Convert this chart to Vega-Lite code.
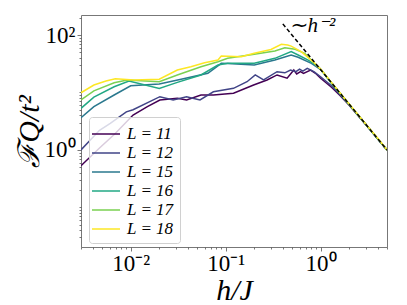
{
  "$schema": "https://vega.github.io/schema/vega-lite/v6.json",
  "width": 306,
  "height": 232,
  "autosize": {"type": "none"},
  "padding": {"left": 81, "top": 15, "right": 20, "bottom": 58},
  "background": "white",
  "config": {
    "view": {"stroke": "#777", "strokeWidth": 1},
    "font": "Liberation Serif"
  },
  "layer": [
    {
      "data": {"values": [
        {"L": "L = 11", "h": 0.003, "F": 0.53}, {"L": "L = 11", "h": 0.0047, "F": 1.08}, {"L": "L = 11", "h": 0.0068, "F": 1.9}, {"L": "L = 11", "h": 0.0106, "F": 4.06}, {"L": "L = 11", "h": 0.015, "F": 5.66}, {"L": "L = 11", "h": 0.0203, "F": 7.41}, {"L": "L = 11", "h": 0.031, "F": 7.9}, {"L": "L = 11", "h": 0.0388, "F": 7.41}, {"L": "L = 11", "h": 0.055, "F": 9.05}, {"L": "L = 11", "h": 0.0743, "F": 9.05}, {"L": "L = 11", "h": 0.121, "F": 9.69}, {"L": "L = 11", "h": 0.197, "F": 13.5}, {"L": "L = 11", "h": 0.273, "F": 16.5}, {"L": "L = 11", "h": 0.348, "F": 20.2}, {"L": "L = 11", "h": 0.444, "F": 17.7}, {"L": "L = 11", "h": 0.522, "F": 24.6}, {"L": "L = 11", "h": 0.56, "F": 21}, {"L": "L = 11", "h": 0.614, "F": 23}, {"L": "L = 11", "h": 0.66, "F": 21.5}, {"L": "L = 11", "h": 0.784, "F": 24.6}, {"L": "L = 11", "h": 0.9, "F": 21}, {"L": "L = 11", "h": 1.0, "F": 17.7}, {"L": "L = 11", "h": 1.31, "F": 12.2}, {"L": "L = 11", "h": 1.6, "F": 8.9}, {"L": "L = 11", "h": 2.0, "F": 6.0}, {"L": "L = 11", "h": 3.0, "F": 2.75}, {"L": "L = 11", "h": 5.0, "F": 1.0},
        {"L": "L = 12", "h": 0.003, "F": 1.0}, {"L": "L = 12", "h": 0.0047, "F": 2.2}, {"L": "L = 12", "h": 0.0061, "F": 2.9}, {"L": "L = 12", "h": 0.009, "F": 4.6}, {"L": "L = 12", "h": 0.0106, "F": 5.0}, {"L": "L = 12", "h": 0.0203, "F": 8.45}, {"L": "L = 12", "h": 0.028, "F": 7.4}, {"L": "L = 12", "h": 0.0388, "F": 8.45}, {"L": "L = 12", "h": 0.0537, "F": 7.4}, {"L": "L = 12", "h": 0.0743, "F": 10.3}, {"L": "L = 12", "h": 0.121, "F": 11.8}, {"L": "L = 12", "h": 0.168, "F": 15.4}, {"L": "L = 12", "h": 0.205, "F": 20.2}, {"L": "L = 12", "h": 0.251, "F": 16.5}, {"L": "L = 12", "h": 0.348, "F": 23}, {"L": "L = 12", "h": 0.42, "F": 22}, {"L": "L = 12", "h": 0.482, "F": 24.6}, {"L": "L = 12", "h": 0.55, "F": 23}, {"L": "L = 12", "h": 0.6, "F": 25.5}, {"L": "L = 12", "h": 0.65, "F": 23.5}, {"L": "L = 12", "h": 0.723, "F": 26.4}, {"L": "L = 12", "h": 0.85, "F": 23}, {"L": "L = 12", "h": 1.0, "F": 18.8}, {"L": "L = 12", "h": 1.31, "F": 13}, {"L": "L = 12", "h": 1.6, "F": 9.2}, {"L": "L = 12", "h": 2.0, "F": 6.1}, {"L": "L = 12", "h": 3.0, "F": 2.75}, {"L": "L = 12", "h": 5.0, "F": 1.0},
        {"L": "L = 15", "h": 0.003, "F": 3.65}, {"L": "L = 15", "h": 0.0041, "F": 5.66}, {"L": "L = 15", "h": 0.0067, "F": 9.05}, {"L": "L = 15", "h": 0.01, "F": 13.1}, {"L": "L = 15", "h": 0.02, "F": 14.1}, {"L": "L = 15", "h": 0.034, "F": 17.0}, {"L": "L = 15", "h": 0.065, "F": 21.6}, {"L": "L = 15", "h": 0.09, "F": 32.2}, {"L": "L = 15", "h": 0.105, "F": 32}, {"L": "L = 15", "h": 0.2, "F": 30.1}, {"L": "L = 15", "h": 0.33, "F": 36.7}, {"L": "L = 15", "h": 0.49, "F": 44.9}, {"L": "L = 15", "h": 0.58, "F": 41}, {"L": "L = 15", "h": 0.8, "F": 32.2}, {"L": "L = 15", "h": 1.02, "F": 24.6}, {"L": "L = 15", "h": 1.3, "F": 14.5}, {"L": "L = 15", "h": 2.0, "F": 6.2}, {"L": "L = 15", "h": 3.0, "F": 2.76}, {"L": "L = 15", "h": 5.0, "F": 1.0},
        {"L": "L = 16", "h": 0.003, "F": 5.3}, {"L": "L = 16", "h": 0.0041, "F": 8.3}, {"L": "L = 16", "h": 0.0067, "F": 12.6}, {"L": "L = 16", "h": 0.0096, "F": 15.8}, {"L": "L = 16", "h": 0.02, "F": 11.8}, {"L": "L = 16", "h": 0.031, "F": 15.0}, {"L": "L = 16", "h": 0.055, "F": 20.2}, {"L": "L = 16", "h": 0.083, "F": 30.1}, {"L": "L = 16", "h": 0.105, "F": 32.2}, {"L": "L = 16", "h": 0.2, "F": 32.2}, {"L": "L = 16", "h": 0.33, "F": 39.3}, {"L": "L = 16", "h": 0.49, "F": 51.3}, {"L": "L = 16", "h": 0.58, "F": 44.9}, {"L": "L = 16", "h": 0.74, "F": 36.7}, {"L": "L = 16", "h": 0.95, "F": 28.1}, {"L": "L = 16", "h": 1.3, "F": 14.6}, {"L": "L = 16", "h": 2.0, "F": 6.2}, {"L": "L = 16", "h": 3.0, "F": 2.76}, {"L": "L = 16", "h": 5.0, "F": 1.0},
        {"L": "L = 17", "h": 0.003, "F": 7.4}, {"L": "L = 17", "h": 0.0041, "F": 10.7}, {"L": "L = 17", "h": 0.0067, "F": 14.8}, {"L": "L = 17", "h": 0.0092, "F": 16.5}, {"L": "L = 17", "h": 0.02, "F": 15.4}, {"L": "L = 17", "h": 0.031, "F": 20.2}, {"L": "L = 17", "h": 0.055, "F": 28.1}, {"L": "L = 17", "h": 0.083, "F": 34.3}, {"L": "L = 17", "h": 0.105, "F": 39.3}, {"L": "L = 17", "h": 0.2, "F": 46.2}, {"L": "L = 17", "h": 0.33, "F": 52.7}, {"L": "L = 17", "h": 0.42, "F": 60}, {"L": "L = 17", "h": 0.54, "F": 56.4}, {"L": "L = 17", "h": 0.68, "F": 48}, {"L": "L = 17", "h": 0.87, "F": 32}, {"L": "L = 17", "h": 1.0, "F": 25.5}, {"L": "L = 17", "h": 1.3, "F": 14.8}, {"L": "L = 17", "h": 2.0, "F": 6.25}, {"L": "L = 17", "h": 3.0, "F": 2.78}, {"L": "L = 17", "h": 5.0, "F": 1.0},
        {"L": "L = 18", "h": 0.003, "F": 9.9}, {"L": "L = 18", "h": 0.0041, "F": 13.5}, {"L": "L = 18", "h": 0.0055, "F": 15.8}, {"L": "L = 18", "h": 0.0069, "F": 17.4}, {"L": "L = 18", "h": 0.0108, "F": 16.5}, {"L": "L = 18", "h": 0.02, "F": 17.0}, {"L": "L = 18", "h": 0.031, "F": 24.6}, {"L": "L = 18", "h": 0.043, "F": 28.1}, {"L": "L = 18", "h": 0.06, "F": 33}, {"L": "L = 18", "h": 0.083, "F": 36.7}, {"L": "L = 18", "h": 0.09, "F": 43}, {"L": "L = 18", "h": 0.146, "F": 42}, {"L": "L = 18", "h": 0.2, "F": 48}, {"L": "L = 18", "h": 0.3, "F": 56}, {"L": "L = 18", "h": 0.386, "F": 69}, {"L": "L = 18", "h": 0.45, "F": 67}, {"L": "L = 18", "h": 0.49, "F": 64}, {"L": "L = 18", "h": 0.63, "F": 51}, {"L": "L = 18", "h": 0.87, "F": 32}, {"L": "L = 18", "h": 1.0, "F": 25.5}, {"L": "L = 18", "h": 1.3, "F": 15}, {"L": "L = 18", "h": 2.0, "F": 6.3}, {"L": "L = 18", "h": 3.0, "F": 2.8}, {"L": "L = 18", "h": 4.0, "F": 1.6}, {"L": "L = 18", "h": 5.0, "F": 1.0}
      ]},
      "mark": {"type": "line", "strokeWidth": 1.5, "clip": true},
      "encoding": {
        "x": {
          "field": "h", "type": "quantitative",
          "scale": {"type": "log", "domain": [0.003, 5], "nice": false},
          "axis": {
            "title": "h/J",
            "titleFont": "Liberation Serif", "titleFontStyle": "italic", "titleFontWeight": "normal", "titleFontSize": 30, "titleColor": "black", "titlePadding": 0,
            "values": [0.003, 0.004, 0.005, 0.006, 0.007, 0.008, 0.009, 0.01, 0.02, 0.03, 0.04, 0.05, 0.06, 0.07, 0.08, 0.09, 0.1, 0.2, 0.3, 0.4, 0.5, 0.6, 0.7, 0.8, 0.9, 1, 2, 3, 4, 5],
            "labelExpr": "datum.value == 0.01 ? '10⁻²' : datum.value == 0.1 ? '10⁻¹' : datum.value == 1 ? '10⁰' : ''",
            "labelFont": "Liberation Serif", "labelFontSize": 23, "labelColor": "black", "labelPadding": 1, "labelOverlap": false, "labelBound": false, "labelFlush": false,
            "tickSize": {"condition": {"test": "datum.value == 0.01 || datum.value == 0.1 || datum.value == 1", "value": 4}, "value": 2},
            "tickColor": "#555", "tickWidth": 0.8,
            "domain": false, "grid": false
          }
        },
        "y": {
          "field": "F", "type": "quantitative",
          "scale": {"type": "log", "domain": [0.0205, 223], "nice": false},
          "axis": {
            "title": "ℱQ/t²",
            "titleFont": "Liberation Serif", "titleFontStyle": "italic", "titleFontWeight": "normal", "titleFontSize": 30, "titleColor": "black", "titlePadding": 0,
            "values": [0.03, 0.04, 0.05, 0.06, 0.07, 0.08, 0.09, 0.1, 0.2, 0.3, 0.4, 0.5, 0.6, 0.7, 0.8, 0.9, 1, 2, 3, 4, 5, 6, 7, 8, 9, 10, 20, 30, 40, 50, 60, 70, 80, 90, 100, 200],
            "labelExpr": "datum.value == 1 ? '10⁰' : datum.value == 100 ? '10²' : ''",
            "labelFont": "Liberation Serif", "labelFontSize": 23, "labelColor": "black", "labelPadding": 2, "labelOverlap": false, "labelBound": false, "labelFlush": false,
            "tickSize": {"condition": {"test": "datum.value == 1 || datum.value == 100", "value": 4}, "value": 2},
            "tickColor": "#555", "tickWidth": 0.8,
            "domain": false, "grid": false
          }
        },
        "color": {
          "field": "L", "type": "nominal",
          "scale": {"domain": ["L = 11", "L = 12", "L = 15", "L = 16", "L = 17", "L = 18"], "range": ["#440154", "#414487", "#2a788e", "#22a884", "#7ad151", "#fde725"]},
          "legend": {
            "title": null,
            "orient": "none", "legendX": 8, "legendY": 102,
            "symbolType": "M-1.4,0H1.4", "symbolSize": 400, "symbolStrokeWidth": 1.5,
            "labelFont": "Liberation Serif", "labelFontStyle": "italic", "labelFontSize": 17, "labelColor": "black", "labelOffset": 10,
            "rowPadding": 0,
            "padding": 6, "strokeColor": "#d0d0d0", "fillColor": "rgba(255,255,255,0.8)", "cornerRadius": 3
          }
        }
      }
    },
    {
      "data": {"values": [{"h": 0.4, "F": 156.25}, {"h": 5, "F": 1}]},
      "mark": {"type": "line", "color": "black", "strokeWidth": 1.5, "strokeDash": [4, 2.5], "clip": true},
      "encoding": {
        "x": {"field": "h", "type": "quantitative"},
        "y": {"field": "F", "type": "quantitative"}
      }
    },
    {
      "data": {"values": [{"h": 0.47, "F": 143, "label": "∼h⁻²"}]},
      "mark": {"type": "text", "align": "left", "baseline": "middle", "font": "Liberation Serif", "fontStyle": "italic", "fontSize": 21, "color": "black"},
      "encoding": {
        "x": {"field": "h", "type": "quantitative"},
        "y": {"field": "F", "type": "quantitative"},
        "text": {"field": "label"}
      }
    }
  ]
}
